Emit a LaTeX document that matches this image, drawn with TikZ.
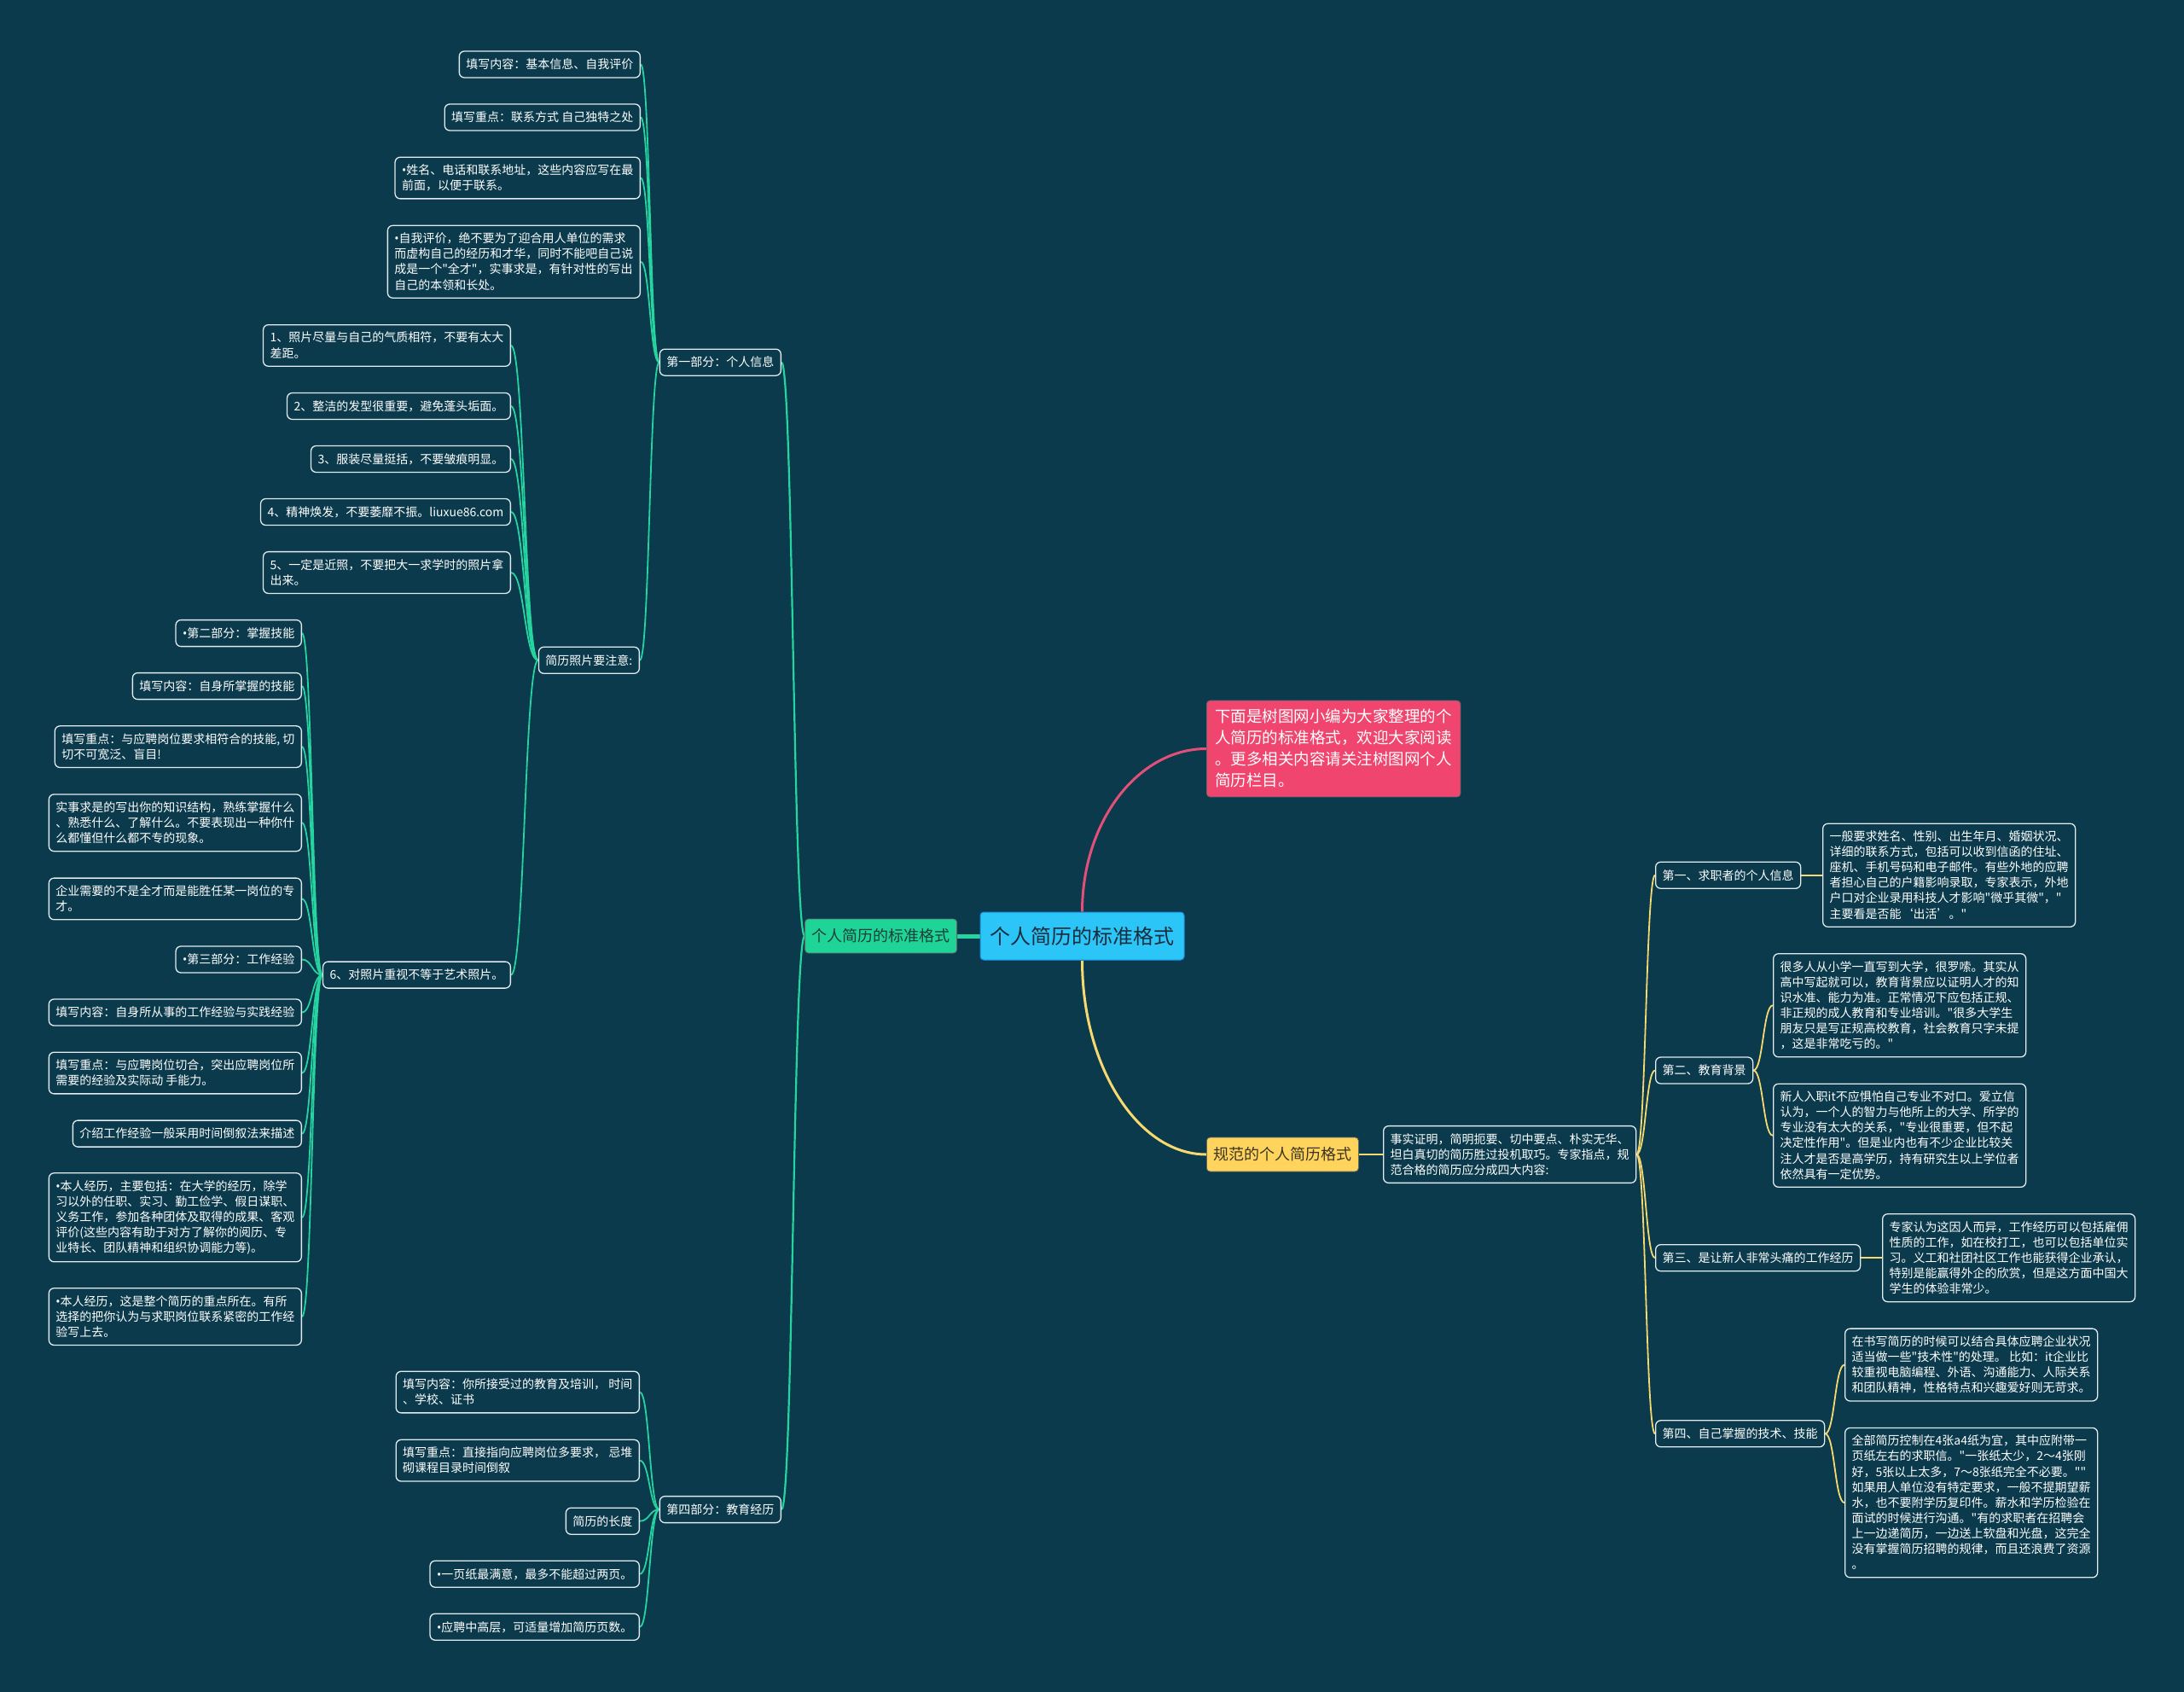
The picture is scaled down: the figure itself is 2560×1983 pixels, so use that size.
\documentclass[tikz,border=0pt]{standalone}
\usepackage{fontspec}
\setmainfont{Noto Sans CJK SC}
\newfontfamily\mmfont{Noto Sans CJK SC}
\newfontfamily\mmlat{Noto Sans}
\usetikzlibrary{calc,backgrounds}
\definecolor{bg}{RGB}{10,58,75}
\definecolor{leafborder}{RGB}{226,236,240}
\definecolor{gline}{RGB}{38,212,160}
\definecolor{yline}{RGB}{246,218,112}
\definecolor{pline}{RGB}{226,80,122}
\definecolor{rootfill}{RGB}{43,197,247}
\definecolor{rootborder}{RGB}{32,140,225}
\definecolor{roottext}{RGB}{25,45,62}
\definecolor{greenfill}{RGB}{30,212,150}
\definecolor{greentext}{RGB}{28,62,58}
\definecolor{pinkfill}{RGB}{240,69,110}
\definecolor{yellowfill}{RGB}{255,212,92}
\definecolor{yellowtext}{RGB}{60,52,34}
\newcommand\mmstrut{\rule[-0.12em]{0pt}{1em}}
\newcommand\mmbul{{\mmlat •}}
\newcommand\mmlink[3][]{%
  \path ($(#2.east)!0.5!(#3.west)$) coordinate (mmtmp);
  \draw[#1] (#2.east) .. controls (mmtmp |- #2.east) and (mmtmp |- #3.west) .. (#3.west);}
\begin{document}
\begin{tikzpicture}[x=1pt,y=-1pt,
  leaf/.style={draw=leafborder, line width=1.3pt, rounded corners=6pt, fill=bg, text=white,
    font=\mmfont\fontsize{14}{18.1}\selectfont, inner xsep=8pt, inner ysep=8.5pt, align=left,
    execute at begin node=\mmstrut, execute at end node=\mmstrut},
  lf/.style={leaf, anchor=east},
  rt/.style={leaf, anchor=west},
  gl/.style={draw=gline, line width=1.8pt},
  yl/.style={draw=yline, line width=1.8pt},
  rootbox/.style={fill=rootfill, draw=rootborder, line width=1pt, rounded corners=4pt, text=roottext,
    font=\mmfont\fontsize{24}{28}\selectfont, inner xsep=11.5pt, inner ysep=16pt,
    execute at begin node=\mmstrut},
  greenbox/.style={fill=greenfill, draw=black!60, line width=0.8pt, rounded corners=4pt, text=greentext,
    font=\mmfont\fontsize{18}{22}\selectfont, inner xsep=8pt, inner ysep=11pt,
    execute at begin node=\mmstrut},
  yellowbox/.style={fill=yellowfill, draw=black!60, line width=0.8pt, rounded corners=4pt, text=yellowtext,
    font=\mmfont\fontsize{18}{22}\selectfont, inner xsep=8pt, inner ysep=11pt,
    execute at begin node=\mmstrut},
  pinkbox/.style={fill=pinkfill, draw=black!60, line width=0.8pt, rounded corners=4pt, text=white,
    font=\mmfont\fontsize{18.5}{25}\selectfont, inner xsep=10pt, inner ysep=10pt, align=left,
    execute at begin node=\mmstrut, execute at end node=\mmstrut},
]
\useasboundingbox (0,0) rectangle (2560,1983);

% central and main nodes
\node[rootbox] (root) at (1268.5,1097) {个人简历的标准格式};
\node[greenbox, anchor=east] (green) at (1122,1097) {个人简历的标准格式};
\node[pinkbox, anchor=west] (pink) at (1414,877.5) {下面是树图网小编为大家整理的个\\人简历的标准格式，欢迎大家阅读\\。更多相关内容请关注树图网个人\\简历栏目。};
\node[yellowbox, anchor=west] (yellow) at (1414,1353) {规范的个人简历格式};

% left: part one
\node[lf] (part1) at (916,424.65) {第一部分：个人信息};
\node[lf] (a1) at (751,75.5) {填写内容：基本信息、自我评价};
\node[lf] (a2) at (751,137.5) {填写重点：联系方式 自己独特之处};
\node[lf] (a3) at (751,208.55) {\mmbul 姓名、电话和联系地址，这些内容应写在最\\前面，以便于联系。};
\node[lf] (a4) at (751,306.75) {\mmbul 自我评价，绝不要为了迎合用人单位的需求\\而虚构自己的经历和才华，同时不能吧自己说\\成是一个"全才"，实事求是，有针对性的写出\\自己的本领和长处。};
\node[lf] (p0) at (750,773.8) {简历照片要注意:};
\node[lf] (b1) at (599,404.95) {1、照片尽量与自己的气质相符，不要有太大\\差距。};
\node[lf] (b2) at (599,476) {2、整洁的发型很重要，避免蓬头垢面。};
\node[lf] (b3) at (599,538) {3、服装尽量挺括，不要皱痕明显。};
\node[lf] (b4) at (599,600) {4、精神焕发，不要萎靡不振。liuxue86.com};
\node[lf] (b5) at (599,671.05) {5、一定是近照，不要把大一求学时的照片拿\\出来。};
\node[lf] (b6) at (599,1142.6) {6、对照片重视不等于艺术照片。};
\node[lf] (c1) at (354,742.1) {\mmbul 第二部分：掌握技能};
\node[lf] (c2) at (354,804.1) {填写内容：自身所掌握的技能};
\node[lf] (c3) at (354,875.15) {填写重点：与应聘岗位要求相符合的技能, 切\\切不可宽泛、盲目!};
\node[lf] (c4) at (354,964.3) {实事求是的写出你的知识结构，熟练掌握什么\\、熟悉什么、了解什么。不要表现出一种你什\\么都懂但什么都不专的现象。};
\node[lf] (c5) at (354,1053.45) {企业需要的不是全才而是能胜任某一岗位的专\\才。};
\node[lf] (c6) at (354,1124.5) {\mmbul 第三部分：工作经验};
\node[lf] (c7) at (354,1186.5) {填写内容：自身所从事的工作经验与实践经验};
\node[lf] (c8) at (354,1257.55) {填写重点：与应聘岗位切合，突出应聘岗位所\\需要的经验及实际动 手能力。};
\node[lf] (c9) at (354,1328.6) {介绍工作经验一般采用时间倒叙法来描述};
\node[lf] (c10) at (354,1426.8) {\mmbul 本人经历，主要包括：在大学的经历，除学\\习以外的任职、实习、勤工俭学、假日谋职、\\义务工作，参加各种团体及取得的成果、客观\\评价(这些内容有助于对方了解你的阅历、专\\业特长、团队精神和组织协调能力等)。};
\node[lf] (c11) at (354,1543.1) {\mmbul 本人经历，这是整个简历的重点所在。有所\\选择的把你认为与求职岗位联系紧密的工作经\\验写上去。};

% left: part four
\node[lf] (part4) at (916,1769.1) {第四部分：教育经历};
\node[lf] (d1) at (750,1631.55) {填写内容：你所接受过的教育及培训， 时间\\、学校、证书};
\node[lf] (d2) at (750,1711.65) {填写重点：直接指向应聘岗位多要求， 忌堆\\砌课程目录时间倒叙};
\node[lf] (d3) at (750,1782.7) {简历的长度};
\node[lf] (d4) at (750,1844.7) {\mmbul 一页纸最满意，最多不能超过两页。};
\node[lf] (d5) at (750,1906.7) {\mmbul 应聘中高层，可适量增加简历页数。};

% right side
\node[rt] (fact) at (1621,1353) {事实证明，简明扼要、切中要点、朴实无华、\\坦白真切的简历胜过投机取巧。专家指点，规\\范合格的简历应分成四大内容:};
\node[rt] (s1) at (1940,1025.75) {第一、求职者的个人信息};
\node[rt] (f1) at (2136,1025.75) {一般要求姓名、性别、出生年月、婚姻状况、\\详细的联系方式，包括可以收到信函的住址、\\座机、手机号码和电子邮件。有些外地的应聘\\者担心自己的户籍影响录取，专家表示，外地\\户口对企业录用科技人才影响"微乎其微"，"\\主要看是否能‘出活’。"};
\node[rt] (s2) at (1940,1254.5) {第二、教育背景};
\node[rt] (e1) at (2078,1178.25) {很多人从小学一直写到大学，很罗嗦。其实从\\高中写起就可以，教育背景应以证明人才的知\\识水准、能力为准。正常情况下应包括正规、\\非正规的成人教育和专业培训。"很多大学生\\朋友只是写正规高校教育，社会教育只字未提\\，这是非常吃亏的。"};
\node[rt] (e2) at (2078,1330.75) {新人入职it不应惧怕自己专业不对口。爱立信\\认为，一个人的智力与他所上的大学、所学的\\专业没有太大的关系，"专业很重要，但不起\\决定性作用"。但是业内也有不少企业比较关\\注人才是否是高学历，持有研究生以上学位者\\依然具有一定优势。};
\node[rt] (s3) at (1940,1474.2) {第三、是让新人非常头痛的工作经历};
\node[rt] (g1) at (2206,1474.2) {专家认为这因人而异，工作经历可以包括雇佣\\性质的工作，如在校打工，也可以包括单位实\\习。义工和社团社区工作也能获得企业承认，\\特别是能赢得外企的欣赏，但是这方面中国大\\学生的体验非常少。};
\node[rt] (s4) at (1940,1680.3) {第四、自己掌握的技术、技能};
\node[rt] (h1) at (2162,1599.55) {在书写简历的时候可以结合具体应聘企业状况\\适当做一些"技术性"的处理。 比如：it企业比\\较重视电脑编程、外语、沟通能力、人际关系\\和团队精神，性格特点和兴趣爱好则无苛求。};
\node[rt] (h2) at (2162,1761.1) {全部简历控制在4张a4纸为宜，其中应附带一\\页纸左右的求职信。"一张纸太少，2～4张刚\\好，5张以上太多，7～8张纸完全不必要。""\\如果用人单位没有特定要求，一般不提期望薪\\水，也不要附学历复印件。薪水和学历检验在\\面试的时候进行沟通。"有的求职者在招聘会\\上一边递简历，一边送上软盘和光盘，这完全\\没有掌握简历招聘的规律，而且还浪费了资源\\。};

\begin{scope}[on background layer]
\fill[bg] (0,0) rectangle (2560,1983);
% root links
\draw[gline, line width=5pt] (green.east) -- (root.west);
\draw[pline, line width=3pt] (root.north) .. controls +(0,-106) and +(-80,0) .. (pink.west);
\draw[yline, line width=3pt] (root.south) .. controls +(0,125) and +(-80,0) .. (yellow.west);
\draw[yline, line width=2.2pt] (yellow.east) -- (fact.west);
% left links
\mmlink[gl, line width=2.2pt]{part1}{green}
\mmlink[gl, line width=2.2pt]{part4}{green}
\foreach \n in {a1,a2,a3,a4,p0} {\mmlink[gl]{\n}{part1}}
\foreach \n in {b1,b2,b3,b4,b5,b6} {\mmlink[gl]{\n}{p0}}
\foreach \n in {c1,c2,c3,c4,c5,c6,c7,c8,c9,c10,c11} {\mmlink[gl]{\n}{b6}}
\foreach \n in {d1,d2,d3,d4,d5} {\mmlink[gl]{\n}{part4}}
% right links
\foreach \n in {s1,s2,s3,s4} {\mmlink[yl]{fact}{\n}}
\mmlink[yl]{s1}{f1}
\mmlink[yl]{s2}{e1}
\mmlink[yl]{s2}{e2}
\mmlink[yl]{s3}{g1}
\mmlink[yl]{s4}{h1}
\mmlink[yl]{s4}{h2}
\end{scope}
\end{tikzpicture}
\end{document}
